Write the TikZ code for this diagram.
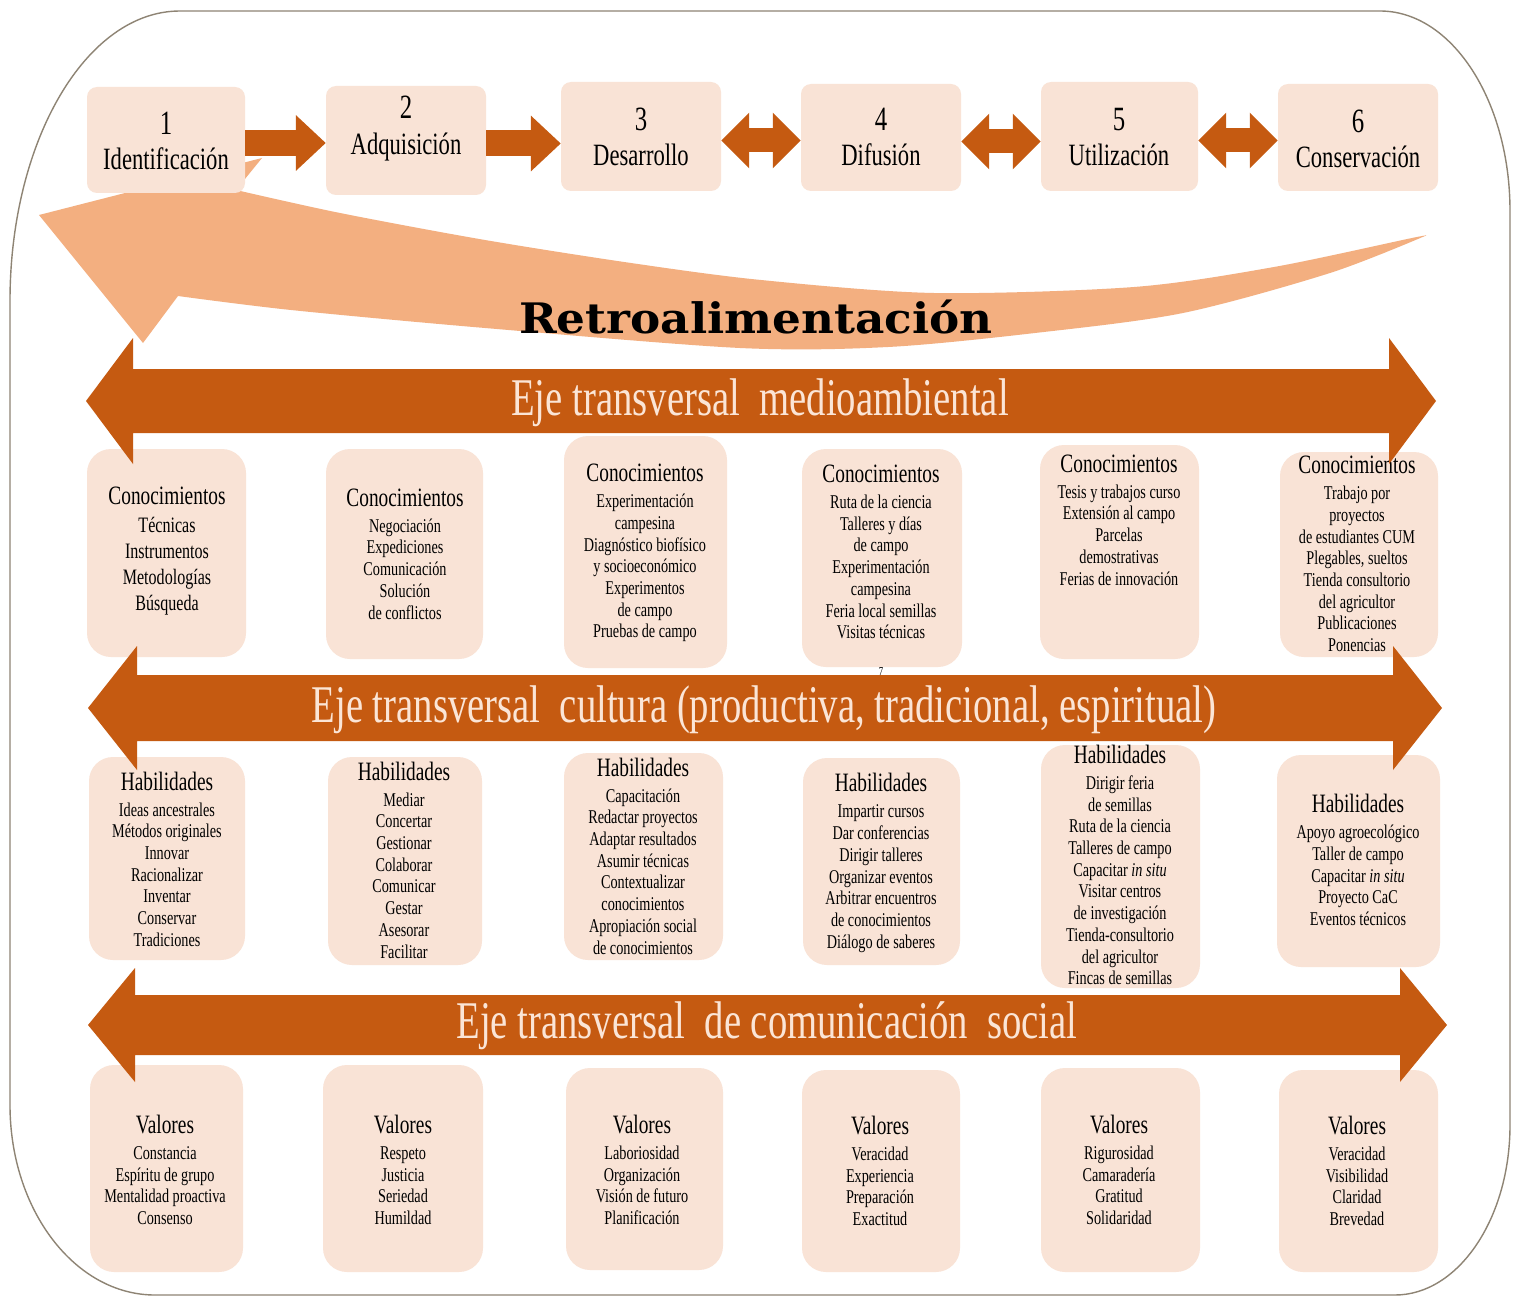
\documentclass[tikz,border=0pt]{standalone}
\usepackage{fontspec}
\usepackage{graphicx}
\setmainfont{Liberation Serif}[FakeStretch=0.73]
\newfontfamily\retrofont{DejaVu Serif}[FakeStretch=1.08]
\usetikzlibrary{arrows.meta}
\definecolor{darkor}{HTML}{C55A11}
\definecolor{peach}{HTML}{F9E3D6}
\definecolor{bandtxt}{HTML}{FBE5D6}
\definecolor{lightor}{HTML}{F3AF80}
\definecolor{framecol}{HTML}{8E8474}
\newcommand\mkbox[6]{\node[#1, minimum width={#5-#3}, minimum height={#6-#4}] (#2) at ({(#3+#5)/2},{(#4+#6)/2}) {};}
\newcommand\hdr[1]{{\fontsize{26.5}{26.5}\selectfont #1}\\[4.3pt]}
\newcommand\bandshape[6]{\fill[darkor] (#2,#1) -- ({#2+#6},{#1-#5}) -- ({#2+#6},{#1-#4}) -- ({#3-#6},{#1-#4}) -- ({#3-#6},{#1-#5}) -- (#3,#1) -- ({#3-#6},{#1+#5}) -- ({#3-#6},{#1+#4}) -- ({#2+#6},{#1+#4}) -- ({#2+#6},{#1+#5}) -- cycle;}
\begin{document}
\begin{tikzpicture}[x=1pt,y=-1pt,
  stagebox/.style={fill=peach, rounded corners=10pt, inner sep=0pt, draw=none},
  cbox/.style={fill=peach, rounded corners=24pt, inner sep=0pt, draw=none},
  stnum/.style={anchor=base, inner sep=0pt, font=\fontsize{34}{34}\selectfont},
  stlab/.style={anchor=base, inner sep=0pt, font=\fontsize{31}{31}\selectfont},
  ctext/.style={align=center, inner sep=0pt, font=\fontsize{19.5}{21.7}\selectfont},
  bandlabel/.style={inner sep=0pt, text=bandtxt, font=\fontsize{53}{53}\selectfont},
  toparr/.style={draw=darkor, line width=26pt, -{Triangle[width=54pt,length=30pt]}},
  dblarr/.style={draw=darkor, line width=24pt, {Triangle[width=54pt,length=28pt]}-{Triangle[width=54pt,length=28pt]}}
]
\useasboundingbox (0,0) rectangle (1513,1300);
\fill[white] (0,0) rectangle (1513,1300);
% outer frame
\draw[framecol, line width=1.4pt] (10,301) .. controls (10,141) and (86,11) .. (180,11) -- (1380,11) .. controls (1452,11) and (1510,101) .. (1510,211) -- (1510,1125) .. controls (1510,1219) and (1458,1295) .. (1395,1295) -- (155,1295) .. controls (75,1295) and (10,1210) .. (10,1105) -- cycle;
% feedback curved arrow
\fill[lightor] (39,215) -- (262,158) -- (236,190)
  -- plot[smooth] coordinates {(236,190) (340,213) (485,240) (631,263) (761,280) (934,293) (1134,287) (1274,267) (1412,238) (1425,236)}
  -- plot[smooth] coordinates {(1425,236) (1330,273) (1183,313) (1035,333) (888,347) (740,348) (485,328) (291,310) (178,296)}
  -- (143,343) -- cycle;
% stage boxes
\mkbox{stagebox}{s1}{87}{87}{245}{193}
\mkbox{stagebox}{s2}{326}{86}{486}{195}
\mkbox{stagebox}{s3}{561}{82}{721}{191}
\mkbox{stagebox}{s4}{801}{84}{961}{191}
\mkbox{stagebox}{s5}{1041}{82}{1198}{191}
\mkbox{stagebox}{s6}{1278}{84}{1438}{191}
\node[stnum] (s1n) at (166,135) {1};
\node[stlab] (s1l) at (166,170) {Identificación};
\node[stnum] (s2n) at (406,119) {2};
\node[stlab] (s2l) at (406,155) {Adquisición};
\node[stnum] (s3n) at (641,131) {3};
\node[stlab] (s3l) at (641,166) {Desarrollo};
\node[stnum] (s4n) at (881,131) {4};
\node[stlab] (s4l) at (881,166) {Difusión};
\node[stnum] (s5n) at (1119,131) {5};
\node[stlab] (s5l) at (1119,166) {Utilización};
\node[stnum] (s6n) at (1358,133) {6};
\node[stlab] (s6l) at (1358,168) {Conservación};
% stage arrows
\draw[toparr] ([yshift=-3pt]s1.east) -- ([yshift=-3pt]s1.east -| s2.west);
\draw[toparr] ([yshift=-3pt]s2.east) -- ([yshift=-3pt]s2.east -| s3.west);
\draw[dblarr] ([yshift=-4pt]s3.east) -- ([yshift=-4pt]s3.east -| s4.west);
\draw[dblarr] ([yshift=-4pt]s4.east) -- ([yshift=-4pt]s4.east -| s5.west);
\draw[dblarr] ([yshift=-4pt]s5.east) -- ([yshift=-4pt]s5.east -| s6.west);
% feedback label
\node[anchor=base, inner sep=0pt, font=\retrofont\bfseries\fontsize{42}{42}\selectfont] (retro) at (756,333) {Retroalimentación};
% Conocimientos boxes
\mkbox{cbox}{k1}{87}{449}{246}{657}
\mkbox{cbox}{k2}{326}{449}{483}{659}
\mkbox{cbox}{k3}{564}{436}{727}{668}
\mkbox{cbox}{k4}{802}{449}{962}{667}
\mkbox{cbox}{k5}{1040}{445}{1199}{659}
\mkbox{cbox}{k6}{1280}{452}{1438}{657}
\node[ctext, font=\fontsize{22}{26}\selectfont] (k1t) at (167,551) {{\fontsize{26.5}{26.5}\selectfont Conocimientos}\\[2pt]Técnicas\\Instrumentos\\Metodologías\\Búsqueda};
\node[ctext] (k2t) at (405,554) {\hdr{Conocimientos}Negociación\\Expediciones\\Comunicación\\Solución\\de conflictos};
\node[ctext] (k3t) at (645,553) {\hdr{Conocimientos}Experimentación\\campesina\\Diagnóstico biofísico\\y socioeconómico\\Experimentos\\de campo\\Pruebas de campo};
\node[ctext] (k4t) at (881,552) {\hdr{Conocimientos}Ruta de la ciencia\\Talleres y días\\de campo\\Experimentación\\campesina\\Feria local semillas\\Visitas técnicas};
\node[ctext] (k5t) at (1119,520) {\hdr{Conocimientos}Tesis y trabajos curso\\Extensión al campo\\Parcelas\\demostrativas\\Ferias de innovación};
\node[ctext] (k6t) at (1357,554) {\hdr{Conocimientos}Trabajo por\\proyectos\\de estudiantes CUM\\Plegables, sueltos\\Tienda consultorio\\del agricultor\\Publicaciones\\Ponencias};
\node[inner sep=0pt, font=\fontsize{12}{12}\selectfont] (pg) at (881,672) {7};
% Habilidades boxes
\mkbox{cbox}{h1}{89}{757}{245}{960}
\mkbox{cbox}{h2}{328}{757}{482}{965}
\mkbox{cbox}{h3}{564}{753}{723}{960}
\mkbox{cbox}{h4}{803}{758}{960}{965}
\mkbox{cbox}{h5}{1041}{745}{1200}{988}
\mkbox{cbox}{h6}{1277}{755}{1440}{967}
\node[ctext] (h1t) at (167,859) {\hdr{Habilidades}Ideas ancestrales\\Métodos originales\\Innovar\\Racionalizar\\Inventar\\Conservar\\Tradiciones};
\node[ctext] (h2t) at (404,860) {\hdr{Habilidades}Mediar\\Concertar\\Gestionar\\Colaborar\\Comunicar\\Gestar\\Asesorar\\Facilitar};
\node[ctext] (h3t) at (643,856) {\hdr{Habilidades}Capacitación\\Redactar proyectos\\Adaptar resultados\\Asumir técnicas\\Contextualizar\\conocimientos\\Apropiación social\\de conocimientos};
\node[ctext] (h4t) at (881,863) {\hdr{Habilidades}Impartir cursos\\Dar conferencias\\Dirigir talleres\\Organizar eventos\\Arbitrar encuentros\\de conocimientos\\Diálogo de saberes};
\node[ctext] (h5t) at (1120,865) {\hdr{Habilidades}Dirigir feria\\de semillas\\Ruta de la ciencia\\Talleres de campo\\Capacitar \textit{in situ}\\Visitar centros\\de investigación\\Tienda-consultorio\\del agricultor\\Fincas de semillas};
\node[ctext] (h6t) at (1358,860) {\hdr{Habilidades}Apoyo agroecológico\\Taller de campo\\Capacitar \textit{in situ}\\Proyecto CaC\\Eventos técnicos};
% Valores boxes
\mkbox{cbox}{v1}{90}{1065}{243}{1272}
\mkbox{cbox}{v2}{323}{1065}{483}{1272}
\mkbox{cbox}{v3}{566}{1068}{723}{1270}
\mkbox{cbox}{v4}{802}{1070}{960}{1272}
\mkbox{cbox}{v5}{1041}{1068}{1200}{1272}
\mkbox{cbox}{v6}{1279}{1070}{1438}{1272}
\node[ctext] (v1t) at (165,1170) {\hdr{Valores}Constancia\\Espíritu de grupo\\Mentalidad proactiva\\Consenso};
\node[ctext] (v2t) at (403,1170) {\hdr{Valores}Respeto\\Justicia\\Seriedad\\Humildad};
\node[ctext] (v3t) at (642,1170) {\hdr{Valores}Laboriosidad\\Organización\\Visión de futuro\\Planificación};
\node[ctext] (v4t) at (880,1171) {\hdr{Valores}Veracidad\\Experiencia\\Preparación\\Exactitud};
\node[ctext] (v5t) at (1119,1170) {\hdr{Valores}Rigurosidad\\Camaradería\\Gratitud\\Solidaridad};
\node[ctext] (v6t) at (1357,1171) {\hdr{Valores}Veracidad\\Visibilidad\\Claridad\\Brevedad};
% transversal axes
\bandshape{401}{86}{1436}{32}{63}{47}
\bandshape{708}{88}{1442}{33}{62}{49}
\bandshape{1025}{88}{1447}{30}{57}{47}
\node[bandlabel] (e1) at (760,403) {Eje transversal\ \ medioambiental};
\node[bandlabel] (e2) at (764,710) {Eje transversal\ \ cultura (productiva, tradicional, espiritual)};
\node[bandlabel] (e3) at (767,1026) {Eje transversal\ \ de comunicación\ \ social};
\end{tikzpicture}
\end{document}
